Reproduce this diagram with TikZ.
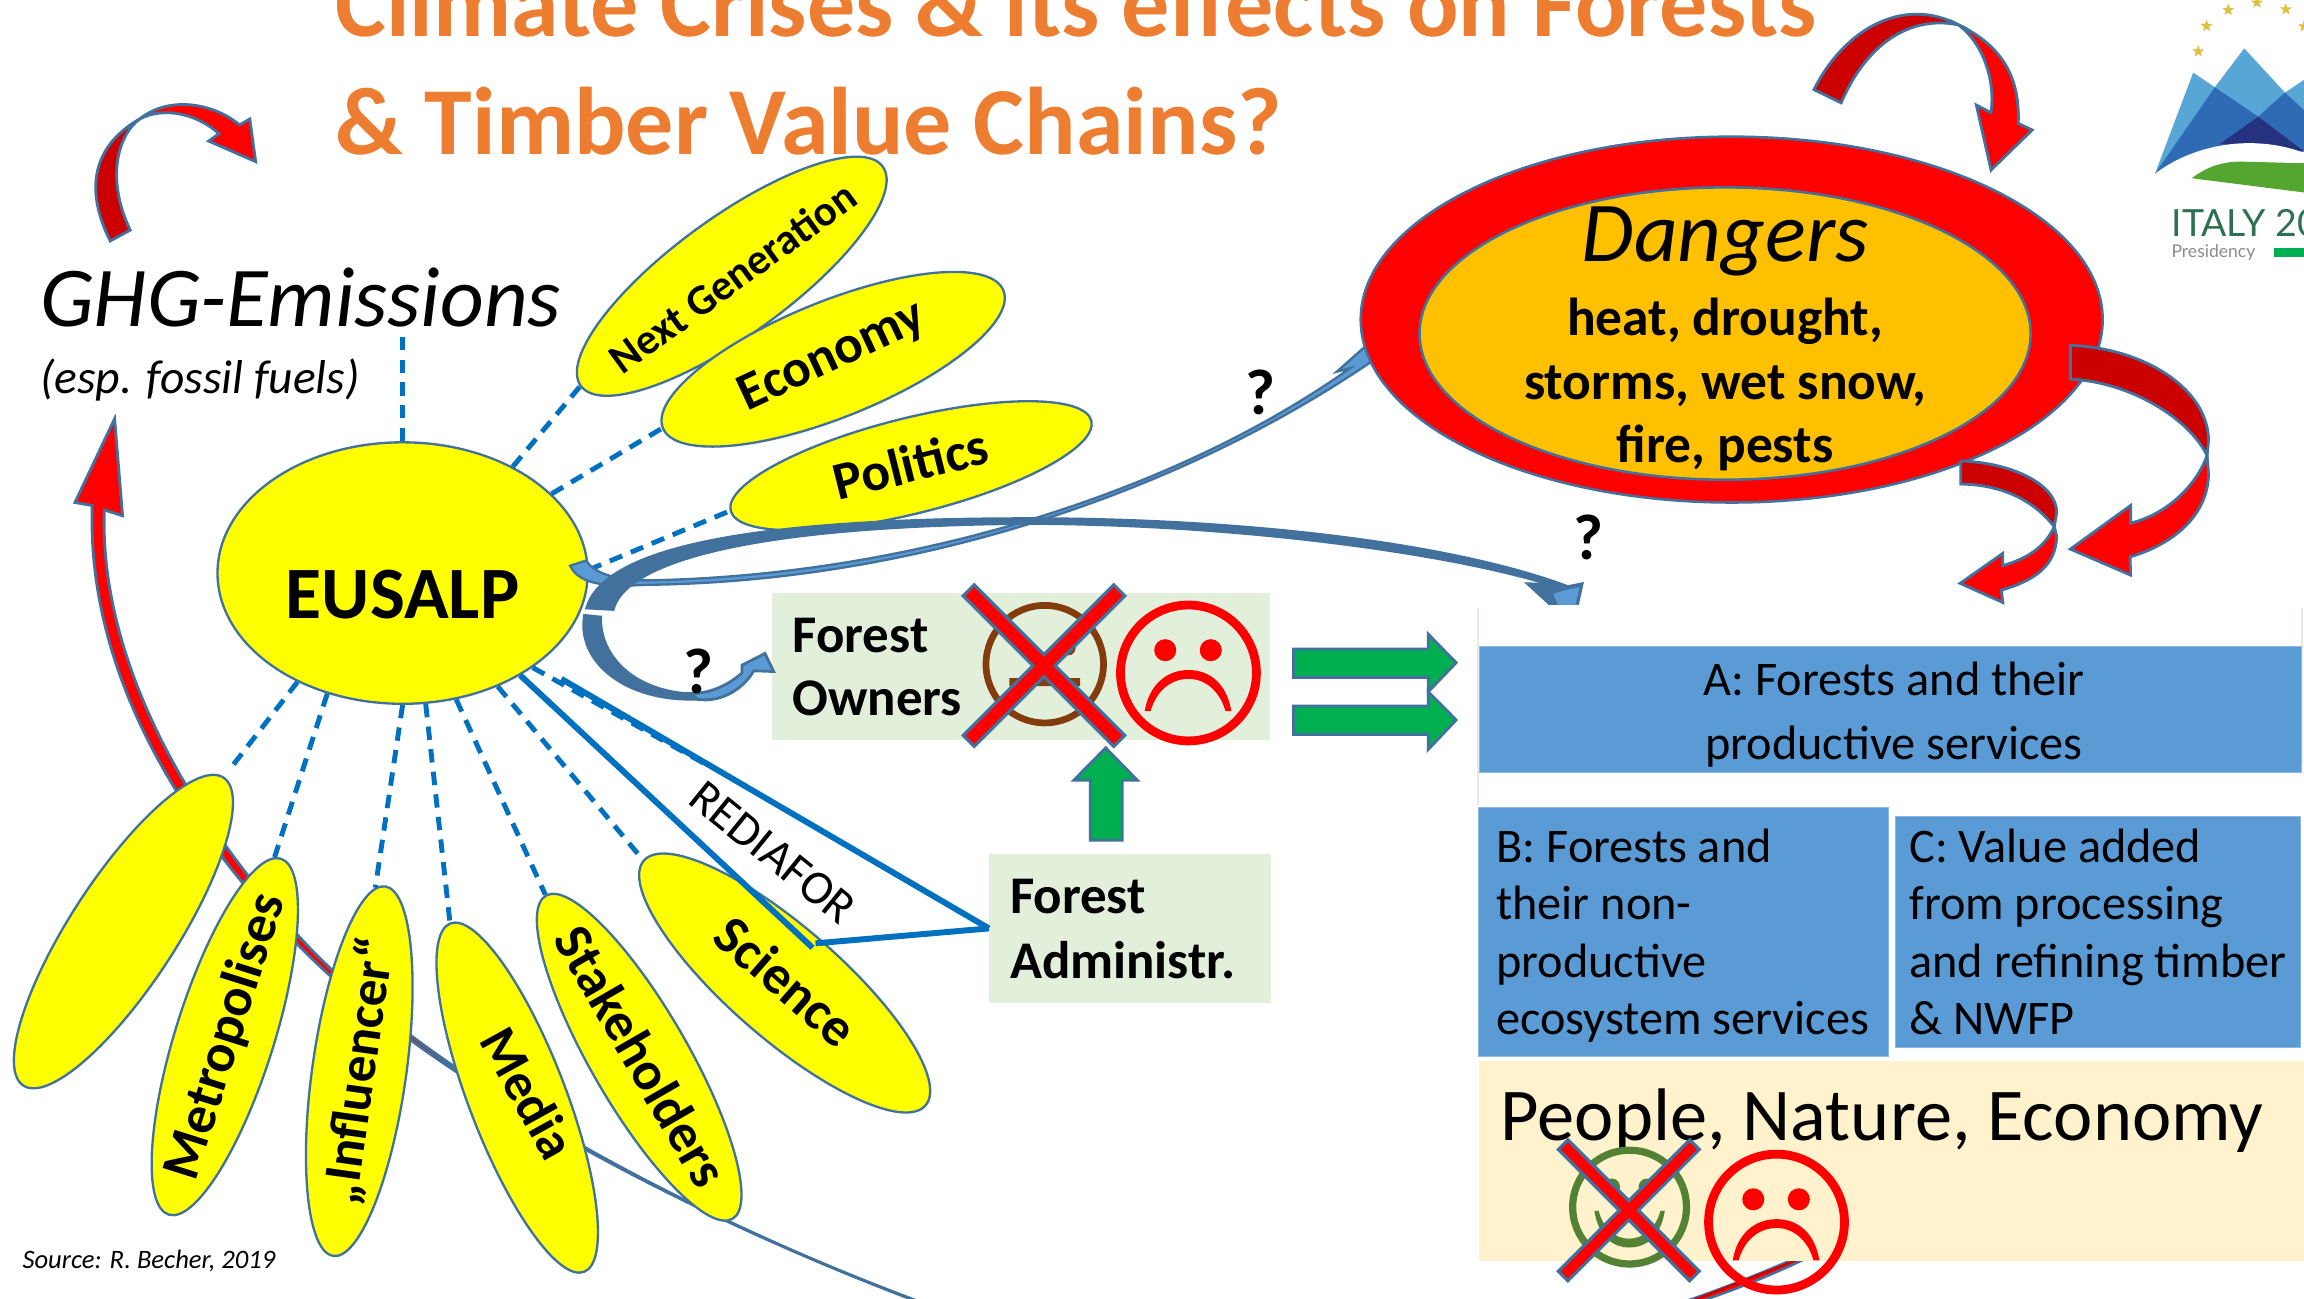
\documentclass[tikz,border=0pt]{standalone}
\usepackage{fontspec}
\setmainfont{Carlito}
\newfontfamily\logofont{Lato}
\usetikzlibrary{shapes.geometric}
\definecolor{olblue}{HTML}{41719C}
\definecolor{boxblue}{HTML}{5B9BD5}
\definecolor{lineblue}{HTML}{0070C0}
\definecolor{pale}{HTML}{E2EFDA}
\definecolor{cream}{HTML}{FFF2CC}
\definecolor{darkred}{HTML}{CC0000}
\definecolor{titleor}{HTML}{ED7D31}
\definecolor{arrgreen}{HTML}{00B050}
\definecolor{brownf}{HTML}{843C0C}
\definecolor{greenf}{HTML}{548235}
\definecolor{pureyellow}{HTML}{FFFF00}
\definecolor{purered}{HTML}{FF0000}
\definecolor{amber}{HTML}{FFC000}
\definecolor{logolight}{HTML}{58A6D6}
\definecolor{logomid}{HTML}{2F6BB5}
\definecolor{logonavy}{HTML}{27327F}
\definecolor{logogreen}{HTML}{55A630}
\definecolor{logotext}{HTML}{2F7050}
\definecolor{logostar}{HTML}{E0C040}
\newcommand{\ptext}[1]{\makebox[0pt][c]{\raisebox{-0.3em}[0pt][0pt]{#1}}}
\newcommand{\fsz}[1]{\fontsize{#1}{#1}\selectfont}
\begin{document}
\begin{tikzpicture}[x=0.02cm,y=-0.02cm,
  petal/.style={ellipse,draw=olblue,fill=pureyellow,line width=0.9pt,inner sep=0pt,
     font=\bfseries\fsz{21}},
  dashln/.style={draw=lineblue,line width=1.9pt,dash pattern=on 5.2pt off 3.6pt},
  solidln/.style={draw=lineblue,line width=2.3pt},
  redarrow/.style={fill=purered,draw=olblue,line width=1.1pt,line join=miter},
  darkarrow/.style={fill=darkred,draw=olblue,line width=1.1pt,line join=miter},
  bluearrow/.style={fill=boxblue,draw=olblue,line width=1.1pt,line join=miter},
  bluedark/.style={fill=olblue,draw=olblue,line width=0.8pt,line join=miter},
  greenarrow/.style={fill=arrgreen,draw=olblue,line width=1.1pt},
  txt/.style={anchor=base west,inner sep=0pt},
  ctxt/.style={anchor=base,inner sep=0pt},
  bluebox/.style={rectangle,fill=boxblue,draw=boxblue!70!white,line width=0.4pt,inner sep=0pt,anchor=north west},
  palebox/.style={rectangle,fill=pale,inner sep=0pt,anchor=north west},
  crossx/.style={fill=purered,draw=olblue,line width=1.2pt,line join=miter},
  qm/.style={anchor=base,inner sep=0pt,font=\bfseries\fsz{25}}]
\useasboundingbox (0,0) rectangle (1568,883.4);
\fill[white] (0,0) rectangle (1568,883.4);

% title
\node[txt,text=titleor,font=\bfseries\fsz{37.2}] (title1) at (228,25) {Climate Crises \& its effects on Forests};
\node[txt,text=titleor,font=\bfseries\fsz{37.2}] (title2) at (228,105) {\& Timber Value Chains?};

% logo
\fill[logolight] (1466.5,118.4) -- (1492.6,49.4) -- (1507.3,59.4) -- (1527.3,32.9) -- (1555,63) -- (1568,54.4) -- (1568,103) -- cycle;
\fill[logomid] (1466.5,118.4) -- (1507.3,59.4) -- (1536.8,79.4) -- (1555,63) -- (1568,75) -- (1568,103) -- cycle;
\fill[logonavy] (1510.7,98) -- (1536.8,79.4) -- (1568,103) -- cycle;
\fill[white] (1466.5,118.4) .. controls (1490,100) and (1530,90) .. (1568,104) -- (1568,112) -- (1490,125) -- cycle;
\fill[logogreen] (1491.5,121.3) .. controls (1500,115) and (1510,110) .. (1525,110) -- (1568,111.1) -- (1568,131) -- cycle;
\foreach \n/\xx/\yy in {s1/1496/35,s2/1501.7/17.7,s3/1516.4/6.8,s4/1536/1.8,s5/1555.6/6.4,s6/1568/18}
  \node[star,star points=5,star point ratio=2.4,fill=logostar,inner sep=0pt,minimum size=0.17cm] (\n) at (\xx,\yy) {};
\node[txt,text=logotext,font=\logofont\fsz{14.5}] (italy) at (1477.5,161) {ITALY 20};
\node[txt,text=black!45,font=\logofont\fsz{6.8}] (presid) at (1477.5,175) {Presidency};
\fill[arrgreen] (1547.5,169) rectangle (1568,174.6);

% big red arrow and its far end (behind everything)
\draw[redarrow,line width=1pt] (1225,855) .. controls (1200,866) and (1175,876) .. (1146,886) -- (1156,886) .. controls (1180,878) and (1205,868) .. (1230,856) -- cycle;
\fill[darkred] (1222,857) -- (1150,885) -- (1154,885) -- (1226,857) -- cycle;
\draw[redarrow] (78,285) -- (83.4,351) -- (71,347) .. controls (68,430) and (108,532) .. (205,639)
   .. controls (283,724) and (450,820.5) .. (626,886) -- (625,886)
   .. controls (450,820) and (280,725) .. (200,640) .. controls (95,530) and (60,430) .. (62.7,344) -- (51,342) -- cycle;

% top-left loop arrow
\draw[darkarrow] (75,164) .. controls (58,130) and (62,100) .. (95,81) .. controls (80,92) and (72,122) .. (88.6,156.6) -- cycle;
\draw[redarrow] (95,81) .. controls (115,65) and (145,70) .. (163,85) -- (170,81) -- (174,110) -- (142,96) -- (149,91) .. controls (135,78) and (112,72) .. (95,81) -- cycle;

% GHG text
\node[txt,font=\itshape\fsz{33}] (ghg) at (27,222) {GHG-Emissions};
\node[txt,font=\itshape\fsz{18.4}] (esp) at (27,268) {(esp. fossil fuels)};
\coordinate (ghgdash) at (274,228);
\node[txt,font=\itshape\fsz{10.3}] (src) at (15,863) {Source: R. Becher, 2019};

% petals
\node[petal,minimum width=5.08cm,minimum height=1.6cm,rotate=36] (nextgen) at (498,188) {\ptext{\fsz{16.6}Next Generation}};
\node[petal,minimum width=5cm,minimum height=1.58cm,rotate=22] (economy) at (567,244.5) {\ptext{\rotatebox{3}{\fsz{20.6}Economy}}};
\node[petal,minimum width=5.06cm,minimum height=1.3cm,rotate=14] (politics) at (620,317) {\ptext{\fsz{20.7}Politics}};
\node[petal,minimum width=5cm,minimum height=1.45cm,rotate=57] (blank) at (84,634) {};
\node[petal,minimum width=5.08cm,minimum height=1.34cm,rotate=72.5] (metro) at (153,705.5) {\ptext{Metropolises}};
\node[petal,minimum width=5.08cm,minimum height=1.28cm,rotate=82] (infl) at (244.5,729) {\ptext{\fsz{20.5}„Influencer“}};
\node[petal,minimum width=5.08cm,minimum height=1.32cm,rotate=-69] (media) at (352,747) {\ptext{\rotatebox{8}{\fsz{20.5}Media}}};
\node[petal,minimum width=5.08cm,minimum height=1.32cm,rotate=-60] (stake) at (435,719.5) {\ptext{Stakeholders}};
\node[petal,minimum width=5.08cm,minimum height=1.52cm,rotate=-41] (science) at (534,669) {\ptext{Science}};

% EUSALP
\node[ellipse,draw=olblue,fill=pureyellow,line width=0.9pt,minimum width=5.04cm,minimum height=3.56cm,inner sep=0pt,font=\bfseries\fsz{28.6}] (eus) at (274,390) {\makebox[0pt][c]{\raisebox{-0.62em}[0pt][0pt]{EUSALP}}};

% dashed connectors
\draw[dashln] (eus.90) -- (ghgdash);
\draw[dashln] (eus.44.6) -- (nextgen.west);
\draw[dashln] (eus.28.3) -- (economy.west);
\draw[dashln] (eus.1) -- (politics.west);
\draw[dashln,shorten >=5pt] (eus.226) -- (blank.east);
\draw[dashln] (eus.238) -- (metro.2);
\draw[dashln] (eus.270) -- (infl.3);
\draw[dashln] (eus.280) -- (media.west);
\draw[dashln] (eus.293) -- (stake.west);
\draw[dashln] (eus.310) -- (science.west);
\coordinate (r1) at (553,645);
\coordinate (r2) at (382,462);
\coordinate (r3) at (555,642);
\coordinate (r4) at (480,520);
\draw[dashln] (eus.324) -- (r4);

% forest boxes
\node[palebox,minimum width=6.78cm,minimum height=2cm] (owners) at (525,403) {};
\node[txt,font=\bfseries\fsz{20.5}] (ot1) at (539,444) {Forest};
\node[txt,font=\bfseries\fsz{20.5}] (ot2) at (539,487) {Owners};
\node[palebox,minimum width=3.84cm,minimum height=2.02cm] (admin) at (673,581) {};
\node[txt,font=\bfseries\fsz{20.5}] (at1) at (687,622) {Forest};
\node[txt,font=\bfseries\fsz{20.5}] (at2) at (687,666) {Administr.};
\draw[solidln] (eus.319) -- (r1);
\draw[solidln] (r2) -- (admin.west);
\draw[solidln] (admin.west) -- (r3);
\node[inner sep=0pt,rotate=-39,font=\fsz{18.5}] (redia) at (526,580) {REDIAFOR};

% blue arrow to Dangers
\draw[bluearrow,line width=0.9pt] (388,385) -- (399,381.5) .. controls (405,392) and (425,395) .. (440,395) .. controls (620,392) and (800,335) .. (919,250.5) -- (909.7,253) -- (930,235) -- (933.5,246) .. controls (800,337) and (620,396) .. (440,398) .. controls (420,399) and (395,400) .. (388,385) -- cycle;

% blue arrow to the boxes
\draw[bluedark] (399,414) .. controls (410,375) and (500,352.7) .. (700,352.7) .. controls (850,352.7) and (990,370) .. (1067,399) -- (1052.6,397.5) .. controls (990,378) and (850,357) .. (700,356.5) .. controls (500,358) and (425,385) .. (417.5,415) -- cycle;
\draw[bluedark] (1039,397) -- (1052.6,397.5) -- (1067,399) -- (1077,397) -- (1072,420) -- (1064,420) -- cycle;
\fill[boxblue] (1066,401.5) -- (1075,399.5) -- (1070,420) -- (1064,420) -- (1057,404) -- cycle;

% blue arrow to owners
\draw[bluedark] (397.6,418.6) -- (409,419.7) .. controls (408,445) and (430,470) .. (470,472) -- (475,476) .. controls (425,478) and (392,450) .. (397.6,418.6) -- cycle;
\draw[bluearrow] (470,472) .. controls (485,472) and (497,465) .. (505,458) -- (505,452.7) -- (520.6,444.7) -- (526.5,457) -- (513,456.5) .. controls (505,470) and (490,478) .. (475,476) -- cycle;

% question marks
\node[qm] (q1) at (475,472) {?};
\node[qm] (q2) at (858,282) {?};
\node[qm] (q3) at (1081,381) {?};

% dangers
\node[ellipse,draw=olblue,fill=purered,line width=1pt,minimum width=10.1cm,minimum height=4.98cm,inner sep=0pt] (dangerout) at (1178.5,217.5) {};
\node[ellipse,draw=olblue,fill=amber,line width=1pt,minimum width=8.32cm,minimum height=3.98cm,inner sep=0pt] (dangerin) at (1174,227) {};
\node[ctxt,font=\itshape\fsz{33}] (dt) at (1174,178) {Dangers};
\node[ctxt,font=\bfseries\fsz{20.7}] (d1) at (1174,228) {heat, drought,};
\node[ctxt,font=\bfseries\fsz{20.7}] (d2) at (1174,272) {storms, wet snow,};
\node[ctxt,font=\bfseries\fsz{20.7}] (d3) at (1174,315) {fire, pests};

% top-right arrow
\draw[darkarrow] (1234.5,61) .. controls (1255,20) and (1295,-3) .. (1333,17) .. controls (1300,10) and (1270,30) .. (1253,70) -- cycle;
\draw[redarrow] (1333,17) .. controls (1360,30) and (1375,50) .. (1373.5,84) -- (1383,88.5) -- (1355,115.7) -- (1345,71.5) -- (1355,76.7) .. controls (1358,55) and (1350,30) .. (1333,17) -- cycle;

% right arrows from dangers
\draw[darkarrow] (1409,235) .. controls (1460,237) and (1503,265) .. (1503,300) -- (1502,310) .. controls (1490,285) and (1450,260) .. (1409,258) -- cycle;
\draw[redarrow] (1502,310) -- (1503,322) .. controls (1503,350) and (1480,370) .. (1449.6,379) -- (1450,391.4) -- (1409,373.7) -- (1450,344) -- (1450,356) .. controls (1475,350) and (1495,330) .. (1502,310) -- cycle;
\draw[darkarrow] (1334.4,313.7) .. controls (1370,315) and (1400,330) .. (1399.7,349) -- (1398,358.4) .. controls (1385,342) and (1365,330) .. (1334.4,329.4) -- cycle;
\draw[redarrow] (1398,358.4) -- (1399.7,365) .. controls (1399,385) and (1385,395) .. (1362,401.6) -- (1363,410) -- (1334,397) -- (1363,376.6) -- (1363,385) .. controls (1380,380) and (1392,372) .. (1398,358.4) -- cycle;

% white panel and the boxes
\fill[white] (1006,411.5) rectangle (1568,722);
\draw[pale,line width=0.8pt] (1006,414) -- (1006,548);
\draw[pale,line width=0.8pt] (1566.5,414) -- (1566.5,520);

\node[bluebox,minimum width=11.19cm,minimum height=1.72cm] (boxa) at (1006.7,439.4) {};
\node[ctxt,font=\fsz{18.7}] (a1) at (1289,473) {A: Forests and their};
\node[ctxt,font=\fsz{18.7}] (a2) at (1289,517) {productive services};
\node[bluebox,minimum width=5.58cm,minimum height=3.4cm] (boxb) at (1005.7,549) {};
\node[txt,font=\fsz{18.7}] (b1) at (1018,587) {B: Forests and};
\node[txt,font=\fsz{18.7}] (b2) at (1018,626) {their non-};
\node[txt,font=\fsz{18.7}] (b3) at (1018,665) {productive};
\node[txt,font=\fsz{18.7}] (b4) at (1018,704) {ecosystem services};
\node[bluebox,minimum width=5.52cm,minimum height=3.14cm] (boxc) at (1289.4,555.5) {};
\node[txt,font=\fsz{18.7}] (c1) at (1299,587) {C: Value added};
\node[txt,font=\fsz{18.7}] (c2) at (1299,626) {from processing};
\node[txt,font=\fsz{18.7}] (c3) at (1299,665) {and refining timber};
\node[txt,font=\fsz{18.7}] (c4) at (1299,704) {\& NWFP};
\node[rectangle,fill=cream,inner sep=0pt,anchor=north west,minimum width=11.24cm,minimum height=2.72cm] (boxp) at (1006,722) {};
\node[txt,font=\fsz{28.85}] (ppl) at (1021,776) {People, Nature, Economy};

% green arrows
\draw[greenarrow] (880.4,441.7) -- (972,441.7) -- (972,431.6) -- (991,451) -- (972,470.8) -- (972,461) -- (880.4,461) -- cycle;
\draw[greenarrow] (880.4,480.5) -- (972,480.5) -- (972,470.8) -- (991,490) -- (972,510) -- (972,499.8) -- (880.4,499.8) -- cycle;
\draw[greenarrow] (742,571.8) -- (742,531) -- (730.8,531) -- (752.5,509) -- (774,531) -- (763.7,531) -- (763.7,571.8) -- cycle;

% neutral face with cross
\node[circle,draw=brownf,line width=2.6pt,minimum size=1.6cm,inner sep=0pt] (neutral) at (711,452) {};
\fill[brownf] (696,438) circle (5) (727,441) circle (5) (687,461.5) rectangle (735,467);
\draw[crossx] (663,398) -- (710.5,445.5) -- (758,398) -- (765.5,405.5) -- (718,453) -- (765.5,500.5) -- (758,508) -- (710.5,460.5) -- (663,508) -- (655.5,500.5) -- (703,453) -- (655.5,405.5) -- cycle;

% sad faces
\foreach \nm/\dx/\dy in {sadone/0/0,sadtwo/400.2/373.7}{
\begin{scope}[shift={(\dx,\dy)}]
\node[circle,draw=purered,line width=3.4pt,minimum size=1.85cm,inner sep=0pt] (\nm) at (808.8,458) {};
\fill[purered] (793,442.5) circle (7.5) (824,442.5) circle (7.5);
\fill[purered] (779,484) .. controls (782,466) and (794,456) .. (808.8,456) .. controls (824,456) and (835,466) .. (838,484) -- (834,484) .. controls (830,470) and (820,462) .. (808.8,462) .. controls (797,462) and (787,470) .. (783,484) -- cycle;
\end{scope}}

% happy face with cross
\node[circle,draw=greenf,line width=2.8pt,minimum size=1.55cm,inner sep=0pt] (happy) at (1109,821.5) {};
\fill[greenf] (1097,807.6) circle (5.5) (1120.7,807.6) circle (5.5);
\fill[greenf] (1085,824) .. controls (1088,842) and (1098,849) .. (1108.7,849) .. controls (1120,849) and (1130,842) .. (1133,824) -- (1130,824) .. controls (1127,836) and (1118,843) .. (1108.7,843) .. controls (1099,843) and (1091,836) .. (1088,824) -- cycle;
\begin{scope}[shift={(1108.5,823.7)},scale=0.872,shift={(-710.5,-453)}]
\draw[crossx] (663,398) -- (710.5,445.5) -- (758,398) -- (765.5,405.5) -- (718,453) -- (765.5,500.5) -- (758,508) -- (710.5,460.5) -- (663,508) -- (655.5,500.5) -- (703,453) -- (655.5,405.5) -- cycle;
\end{scope}
\end{tikzpicture}
\end{document}
